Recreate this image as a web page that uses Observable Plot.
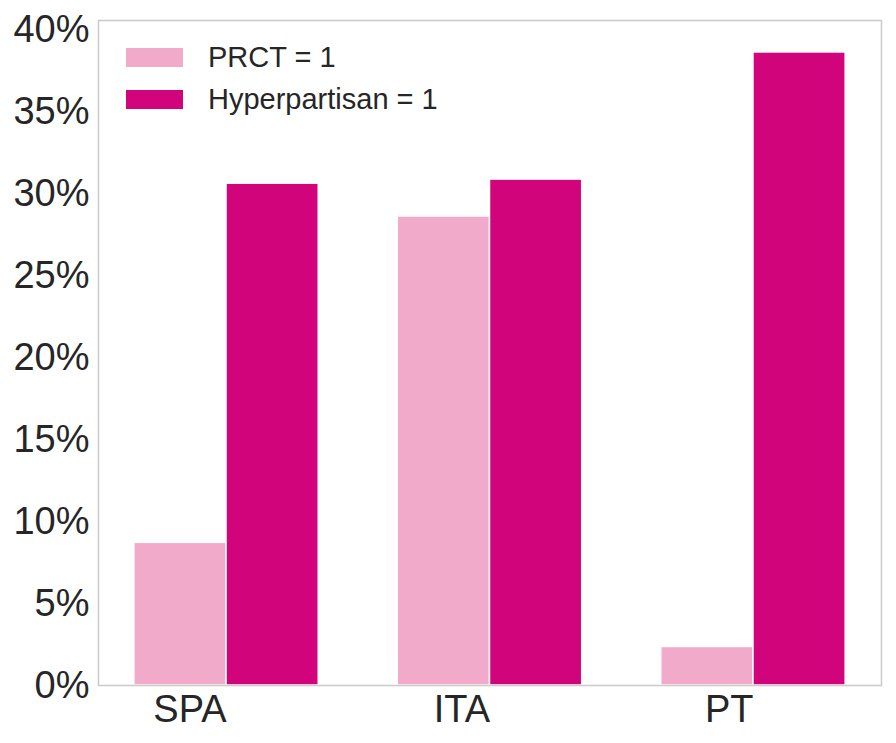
<!DOCTYPE html>
<html>
<head>
<meta charset="utf-8">
<script src="https://cdn.jsdelivr.net/npm/d3@7"></script>
<script src="https://cdn.jsdelivr.net/npm/@observablehq/plot@0.6"></script>
<style>
  body { margin: 0; background: #fff; }
  #wrap { position: relative; width: 896px; height: 743px; font-family: "Liberation Sans", Arial, sans-serif; }
  .legend { position: absolute; left: 126px; top: 37px; color: #262626; font-size: 29px; }
  .row { display: flex; align-items: center; height: 41.5px; }
  .sw { width: 57px; height: 19px; margin-right: 25px; }
</style>
</head>
<body>
<div id="wrap"></div>
<script>
const countries = ["SPA", "ITA", "PT"];
const seriesNames = ["PRCT = 1", "Hyperpartisan = 1"];
const prct = [8.7, 28.6, 2.35];
const hyper = [30.6, 30.85, 38.6];
const colors = ["#f2aacb", "#d2047c"];
const yTicks = [0, 5, 10, 15, 20, 25, 30, 35, 40];

const data = [];
countries.forEach((c, i) => {
  data.push({country: c, series: seriesNames[0], value: prct[i]});
  data.push({country: c, series: seriesNames[1], value: hyper[i]});
});
const barW = 0.35;
const xPos = d => countries.indexOf(d.country) + (seriesNames.indexOf(d.series) - 1) * barW;

const plot = Plot.plot({
  width: 896,
  height: 743,
  marginLeft: 98,
  marginRight: 15,
  marginTop: 20,
  marginBottom: 58,
  style: {fontFamily: '"Liberation Sans", Arial, sans-serif', fontSize: "38px", color: "#262626", background: "#fff"},
  x: {domain: [-0.486, 2.486], label: null},
  y: {domain: [0, 40.55], label: null},
  color: {domain: seriesNames, range: colors},
  marks: [
    Plot.rectY(data, {
      x1: xPos,
      x2: d => xPos(d) + barW,
      y1: 0,
      y2: "value",
      fill: "series",
      stroke: "white",
      strokeWidth: 1.5
    }),
    Plot.axisX({ticks: [0, 1, 2], tickFormat: i => countries[i], tickSize: 0, tickPadding: 10, textAnchor: "end", label: null, fill: "#262626"}),
    Plot.axisY({ticks: yTicks, tickFormat: d => d + "%", tickSize: 0, tickPadding: 9, label: null, fill: "#262626"}),
    Plot.frame({stroke: "#cccccc", strokeWidth: 1.6})
  ]
});

const wrap = document.getElementById("wrap");
wrap.appendChild(plot);

const legend = document.createElement("div");
legend.className = "legend";
seriesNames.forEach((s, i) => {
  const row = document.createElement("div");
  row.className = "row";
  const sw = document.createElement("div");
  sw.className = "sw";
  sw.style.background = colors[i];
  const t = document.createElement("span");
  t.textContent = s;
  row.appendChild(sw);
  row.appendChild(t);
  legend.appendChild(row);
});
wrap.appendChild(legend);
</script>
</body>
</html>
